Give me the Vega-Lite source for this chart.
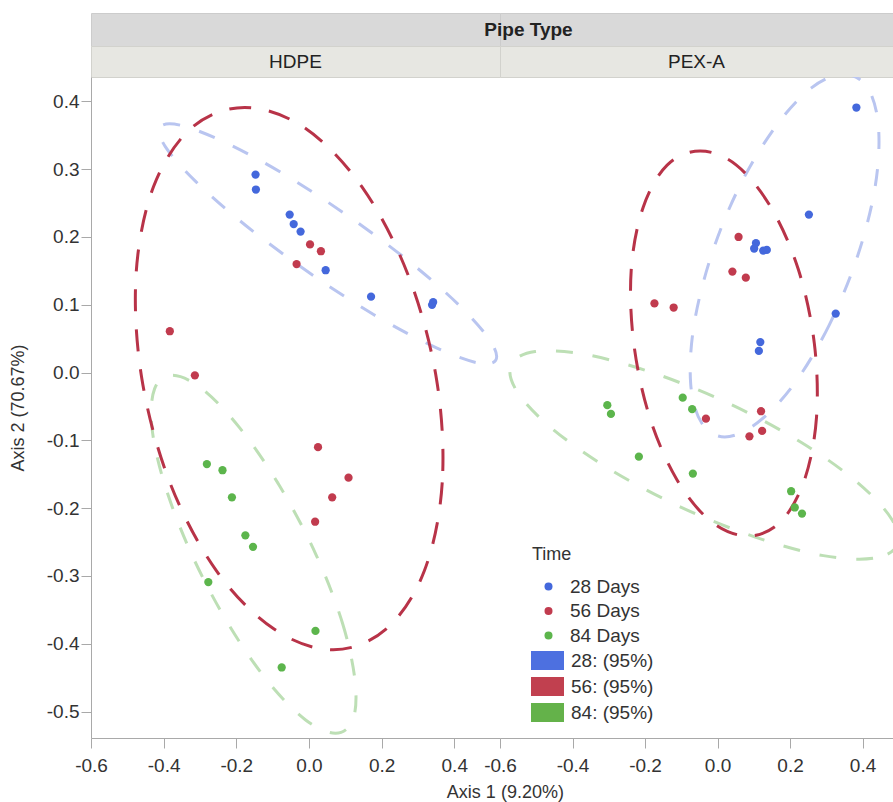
{
  "$schema": "https://vega.github.io/schema/vega-lite/v6.json",
  "padding": {"left": 9, "top": 12, "right": 0, "bottom": 0},
  "background": "white",
  "config": {
    "font": "Liberation Sans",
    "view": {"stroke": null},
    "axis": {"labelFont": "Liberation Sans", "titleFont": "Liberation Sans", "labelFontSize": 19, "titleFontSize": 18, "titleFontWeight": "normal", "labelColor": "#333333", "titleColor": "#333333", "domainColor": "#a9a9a9", "tickColor": "#a9a9a9", "tickSize": 10, "grid": false, "labelOverlap": false, "labelFlush": false, "labelBound": false},
    "legend": {"labelFont": "Liberation Sans", "titleFont": "Liberation Sans"},
    "title": {"font": "Liberation Sans"}
  },
  "datasets": {
    "pts": [
      {"pipe": "HDPE", "time": "28 Days", "x": -0.147, "y": 0.292},
      {"pipe": "HDPE", "time": "28 Days", "x": -0.146, "y": 0.270},
      {"pipe": "HDPE", "time": "28 Days", "x": -0.053, "y": 0.233},
      {"pipe": "HDPE", "time": "28 Days", "x": -0.042, "y": 0.219},
      {"pipe": "HDPE", "time": "28 Days", "x": -0.023, "y": 0.208},
      {"pipe": "HDPE", "time": "28 Days", "x": 0.046, "y": 0.151},
      {"pipe": "HDPE", "time": "28 Days", "x": 0.171, "y": 0.112},
      {"pipe": "HDPE", "time": "28 Days", "x": 0.342, "y": 0.104},
      {"pipe": "HDPE", "time": "28 Days", "x": 0.339, "y": 0.100},
      {"pipe": "HDPE", "time": "56 Days", "x": 0.003, "y": 0.189},
      {"pipe": "HDPE", "time": "56 Days", "x": 0.033, "y": 0.179},
      {"pipe": "HDPE", "time": "56 Days", "x": -0.034, "y": 0.160},
      {"pipe": "HDPE", "time": "56 Days", "x": -0.383, "y": 0.061},
      {"pipe": "HDPE", "time": "56 Days", "x": -0.314, "y": -0.004},
      {"pipe": "HDPE", "time": "56 Days", "x": 0.025, "y": -0.110},
      {"pipe": "HDPE", "time": "56 Days", "x": 0.109, "y": -0.155},
      {"pipe": "HDPE", "time": "56 Days", "x": 0.064, "y": -0.184},
      {"pipe": "HDPE", "time": "56 Days", "x": 0.017, "y": -0.220},
      {"pipe": "HDPE", "time": "84 Days", "x": -0.281, "y": -0.135},
      {"pipe": "HDPE", "time": "84 Days", "x": -0.238, "y": -0.144},
      {"pipe": "HDPE", "time": "84 Days", "x": -0.212, "y": -0.184},
      {"pipe": "HDPE", "time": "84 Days", "x": -0.175, "y": -0.240},
      {"pipe": "HDPE", "time": "84 Days", "x": -0.154, "y": -0.257},
      {"pipe": "HDPE", "time": "84 Days", "x": -0.277, "y": -0.309},
      {"pipe": "HDPE", "time": "84 Days", "x": 0.018, "y": -0.381},
      {"pipe": "HDPE", "time": "84 Days", "x": -0.075, "y": -0.435},
      {"pipe": "PEX-A", "time": "28 Days", "x": 0.383, "y": 0.391},
      {"pipe": "PEX-A", "time": "28 Days", "x": 0.252, "y": 0.233},
      {"pipe": "PEX-A", "time": "28 Days", "x": 0.106, "y": 0.191},
      {"pipe": "PEX-A", "time": "28 Days", "x": 0.101, "y": 0.183},
      {"pipe": "PEX-A", "time": "28 Days", "x": 0.126, "y": 0.180},
      {"pipe": "PEX-A", "time": "28 Days", "x": 0.136, "y": 0.181},
      {"pipe": "PEX-A", "time": "28 Days", "x": 0.326, "y": 0.087},
      {"pipe": "PEX-A", "time": "28 Days", "x": 0.118, "y": 0.045},
      {"pipe": "PEX-A", "time": "28 Days", "x": 0.114, "y": 0.032},
      {"pipe": "PEX-A", "time": "56 Days", "x": 0.058, "y": 0.200},
      {"pipe": "PEX-A", "time": "56 Days", "x": 0.041, "y": 0.149},
      {"pipe": "PEX-A", "time": "56 Days", "x": 0.078, "y": 0.140},
      {"pipe": "PEX-A", "time": "56 Days", "x": -0.174, "y": 0.102},
      {"pipe": "PEX-A", "time": "56 Days", "x": -0.121, "y": 0.096},
      {"pipe": "PEX-A", "time": "56 Days", "x": 0.120, "y": -0.057},
      {"pipe": "PEX-A", "time": "56 Days", "x": -0.032, "y": -0.068},
      {"pipe": "PEX-A", "time": "56 Days", "x": 0.123, "y": -0.086},
      {"pipe": "PEX-A", "time": "56 Days", "x": 0.088, "y": -0.094},
      {"pipe": "PEX-A", "time": "84 Days", "x": -0.304, "y": -0.048},
      {"pipe": "PEX-A", "time": "84 Days", "x": -0.294, "y": -0.061},
      {"pipe": "PEX-A", "time": "84 Days", "x": -0.096, "y": -0.037},
      {"pipe": "PEX-A", "time": "84 Days", "x": -0.070, "y": -0.054},
      {"pipe": "PEX-A", "time": "84 Days", "x": -0.217, "y": -0.124},
      {"pipe": "PEX-A", "time": "84 Days", "x": -0.068, "y": -0.149},
      {"pipe": "PEX-A", "time": "84 Days", "x": 0.203, "y": -0.175},
      {"pipe": "PEX-A", "time": "84 Days", "x": 0.213, "y": -0.199},
      {"pipe": "PEX-A", "time": "84 Days", "x": 0.233, "y": -0.208}
    ],
    "ell": [
      {"pipe": "HDPE", "ell": "28: (95%)", "i": 0, "x": 0.514, "y": 0.018},
      {"pipe": "HDPE", "ell": "28: (95%)", "i": 1, "x": 0.459, "y": 0.015},
      {"pipe": "HDPE", "ell": "28: (95%)", "i": 2, "x": 0.341, "y": 0.039},
      {"pipe": "HDPE", "ell": "28: (95%)", "i": 3, "x": 0.180, "y": 0.085},
      {"pipe": "HDPE", "ell": "28: (95%)", "i": 4, "x": -0.001, "y": 0.148},
      {"pipe": "HDPE", "ell": "28: (95%)", "i": 5, "x": -0.174, "y": 0.217},
      {"pipe": "HDPE", "ell": "28: (95%)", "i": 6, "x": -0.312, "y": 0.282},
      {"pipe": "HDPE", "ell": "28: (95%)", "i": 7, "x": -0.395, "y": 0.333},
      {"pipe": "HDPE", "ell": "28: (95%)", "i": 8, "x": -0.410, "y": 0.362},
      {"pipe": "HDPE", "ell": "28: (95%)", "i": 9, "x": -0.355, "y": 0.365},
      {"pipe": "HDPE", "ell": "28: (95%)", "i": 10, "x": -0.237, "y": 0.341},
      {"pipe": "HDPE", "ell": "28: (95%)", "i": 11, "x": -0.076, "y": 0.295},
      {"pipe": "HDPE", "ell": "28: (95%)", "i": 12, "x": 0.105, "y": 0.232},
      {"pipe": "HDPE", "ell": "28: (95%)", "i": 13, "x": 0.278, "y": 0.163},
      {"pipe": "HDPE", "ell": "28: (95%)", "i": 14, "x": 0.416, "y": 0.098},
      {"pipe": "HDPE", "ell": "28: (95%)", "i": 15, "x": 0.499, "y": 0.047},
      {"pipe": "HDPE", "ell": "56: (95%)", "i": 0, "x": 0.351, "y": -0.009},
      {"pipe": "HDPE", "ell": "56: (95%)", "i": 1, "x": 0.367, "y": -0.162},
      {"pipe": "HDPE", "ell": "56: (95%)", "i": 2, "x": 0.318, "y": -0.292},
      {"pipe": "HDPE", "ell": "56: (95%)", "i": 3, "x": 0.213, "y": -0.378},
      {"pipe": "HDPE", "ell": "56: (95%)", "i": 4, "x": 0.067, "y": -0.409},
      {"pipe": "HDPE", "ell": "56: (95%)", "i": 5, "x": -0.097, "y": -0.378},
      {"pipe": "HDPE", "ell": "56: (95%)", "i": 6, "x": -0.255, "y": -0.292},
      {"pipe": "HDPE", "ell": "56: (95%)", "i": 7, "x": -0.383, "y": -0.162},
      {"pipe": "HDPE", "ell": "56: (95%)", "i": 8, "x": -0.460, "y": -0.009},
      {"pipe": "HDPE", "ell": "56: (95%)", "i": 9, "x": -0.476, "y": 0.144},
      {"pipe": "HDPE", "ell": "56: (95%)", "i": 10, "x": -0.428, "y": 0.274},
      {"pipe": "HDPE", "ell": "56: (95%)", "i": 11, "x": -0.323, "y": 0.361},
      {"pipe": "HDPE", "ell": "56: (95%)", "i": 12, "x": -0.177, "y": 0.391},
      {"pipe": "HDPE", "ell": "56: (95%)", "i": 13, "x": -0.012, "y": 0.361},
      {"pipe": "HDPE", "ell": "56: (95%)", "i": 14, "x": 0.146, "y": 0.274},
      {"pipe": "HDPE", "ell": "56: (95%)", "i": 15, "x": 0.273, "y": 0.144},
      {"pipe": "HDPE", "ell": "84: (95%)", "i": 0, "x": 0.019, "y": -0.268},
      {"pipe": "HDPE", "ell": "84: (95%)", "i": 1, "x": 0.092, "y": -0.369},
      {"pipe": "HDPE", "ell": "84: (95%)", "i": 2, "x": 0.127, "y": -0.455},
      {"pipe": "HDPE", "ell": "84: (95%)", "i": 3, "x": 0.121, "y": -0.512},
      {"pipe": "HDPE", "ell": "84: (95%)", "i": 4, "x": 0.073, "y": -0.532},
      {"pipe": "HDPE", "ell": "84: (95%)", "i": 5, "x": -0.010, "y": -0.512},
      {"pipe": "HDPE", "ell": "84: (95%)", "i": 6, "x": -0.114, "y": -0.455},
      {"pipe": "HDPE", "ell": "84: (95%)", "i": 7, "x": -0.224, "y": -0.369},
      {"pipe": "HDPE", "ell": "84: (95%)", "i": 8, "x": -0.323, "y": -0.268},
      {"pipe": "HDPE", "ell": "84: (95%)", "i": 9, "x": -0.396, "y": -0.167},
      {"pipe": "HDPE", "ell": "84: (95%)", "i": 10, "x": -0.432, "y": -0.082},
      {"pipe": "HDPE", "ell": "84: (95%)", "i": 11, "x": -0.425, "y": -0.024},
      {"pipe": "HDPE", "ell": "84: (95%)", "i": 12, "x": -0.377, "y": -0.004},
      {"pipe": "HDPE", "ell": "84: (95%)", "i": 13, "x": -0.294, "y": -0.024},
      {"pipe": "HDPE", "ell": "84: (95%)", "i": 14, "x": -0.190, "y": -0.082},
      {"pipe": "HDPE", "ell": "84: (95%)", "i": 15, "x": -0.081, "y": -0.167},
      {"pipe": "PEX-A", "ell": "28: (95%)", "i": 0, "x": 0.387, "y": 0.173},
      {"pipe": "PEX-A", "ell": "28: (95%)", "i": 1, "x": 0.308, "y": 0.070},
      {"pipe": "PEX-A", "ell": "28: (95%)", "i": 2, "x": 0.211, "y": -0.017},
      {"pipe": "PEX-A", "ell": "28: (95%)", "i": 3, "x": 0.110, "y": -0.074},
      {"pipe": "PEX-A", "ell": "28: (95%)", "i": 4, "x": 0.020, "y": -0.095},
      {"pipe": "PEX-A", "ell": "28: (95%)", "i": 5, "x": -0.044, "y": -0.074},
      {"pipe": "PEX-A", "ell": "28: (95%)", "i": 6, "x": -0.074, "y": -0.017},
      {"pipe": "PEX-A", "ell": "28: (95%)", "i": 7, "x": -0.065, "y": 0.070},
      {"pipe": "PEX-A", "ell": "28: (95%)", "i": 8, "x": -0.017, "y": 0.173},
      {"pipe": "PEX-A", "ell": "28: (95%)", "i": 9, "x": 0.061, "y": 0.275},
      {"pipe": "PEX-A", "ell": "28: (95%)", "i": 10, "x": 0.159, "y": 0.362},
      {"pipe": "PEX-A", "ell": "28: (95%)", "i": 11, "x": 0.259, "y": 0.420},
      {"pipe": "PEX-A", "ell": "28: (95%)", "i": 12, "x": 0.349, "y": 0.440},
      {"pipe": "PEX-A", "ell": "28: (95%)", "i": 13, "x": 0.414, "y": 0.420},
      {"pipe": "PEX-A", "ell": "28: (95%)", "i": 14, "x": 0.444, "y": 0.362},
      {"pipe": "PEX-A", "ell": "28: (95%)", "i": 15, "x": 0.435, "y": 0.275},
      {"pipe": "PEX-A", "ell": "56: (95%)", "i": 0, "x": 0.267, "y": 0.043},
      {"pipe": "PEX-A", "ell": "56: (95%)", "i": 1, "x": 0.273, "y": -0.066},
      {"pipe": "PEX-A", "ell": "56: (95%)", "i": 2, "x": 0.240, "y": -0.158},
      {"pipe": "PEX-A", "ell": "56: (95%)", "i": 3, "x": 0.174, "y": -0.220},
      {"pipe": "PEX-A", "ell": "56: (95%)", "i": 4, "x": 0.084, "y": -0.241},
      {"pipe": "PEX-A", "ell": "56: (95%)", "i": 5, "x": -0.017, "y": -0.220},
      {"pipe": "PEX-A", "ell": "56: (95%)", "i": 6, "x": -0.112, "y": -0.158},
      {"pipe": "PEX-A", "ell": "56: (95%)", "i": 7, "x": -0.187, "y": -0.066},
      {"pipe": "PEX-A", "ell": "56: (95%)", "i": 8, "x": -0.231, "y": 0.043},
      {"pipe": "PEX-A", "ell": "56: (95%)", "i": 9, "x": -0.238, "y": 0.152},
      {"pipe": "PEX-A", "ell": "56: (95%)", "i": 10, "x": -0.205, "y": 0.244},
      {"pipe": "PEX-A", "ell": "56: (95%)", "i": 11, "x": -0.139, "y": 0.306},
      {"pipe": "PEX-A", "ell": "56: (95%)", "i": 12, "x": -0.048, "y": 0.327},
      {"pipe": "PEX-A", "ell": "56: (95%)", "i": 13, "x": 0.052, "y": 0.306},
      {"pipe": "PEX-A", "ell": "56: (95%)", "i": 14, "x": 0.147, "y": 0.244},
      {"pipe": "PEX-A", "ell": "56: (95%)", "i": 15, "x": 0.223, "y": 0.152},
      {"pipe": "PEX-A", "ell": "84: (95%)", "i": 0, "x": 0.495, "y": -0.255},
      {"pipe": "PEX-A", "ell": "84: (95%)", "i": 1, "x": 0.429, "y": -0.274},
      {"pipe": "PEX-A", "ell": "84: (95%)", "i": 2, "x": 0.292, "y": -0.270},
      {"pipe": "PEX-A", "ell": "84: (95%)", "i": 3, "x": 0.106, "y": -0.243},
      {"pipe": "PEX-A", "ell": "84: (95%)", "i": 4, "x": -0.103, "y": -0.198},
      {"pipe": "PEX-A", "ell": "84: (95%)", "i": 5, "x": -0.302, "y": -0.141},
      {"pipe": "PEX-A", "ell": "84: (95%)", "i": 6, "x": -0.460, "y": -0.081},
      {"pipe": "PEX-A", "ell": "84: (95%)", "i": 7, "x": -0.554, "y": -0.027},
      {"pipe": "PEX-A", "ell": "84: (95%)", "i": 8, "x": -0.569, "y": 0.012},
      {"pipe": "PEX-A", "ell": "84: (95%)", "i": 9, "x": -0.503, "y": 0.031},
      {"pipe": "PEX-A", "ell": "84: (95%)", "i": 10, "x": -0.367, "y": 0.027},
      {"pipe": "PEX-A", "ell": "84: (95%)", "i": 11, "x": -0.180, "y": 0.000},
      {"pipe": "PEX-A", "ell": "84: (95%)", "i": 12, "x": 0.029, "y": -0.045},
      {"pipe": "PEX-A", "ell": "84: (95%)", "i": 13, "x": 0.228, "y": -0.102},
      {"pipe": "PEX-A", "ell": "84: (95%)", "i": 14, "x": 0.386, "y": -0.162},
      {"pipe": "PEX-A", "ell": "84: (95%)", "i": 15, "x": 0.480, "y": -0.216}
    ]
  },
  "columns": 2,
  "spacing": 0,
  "bounds": "flush",
  "align": "each",
  "resolve": {"scale": {"color": "independent", "stroke": "independent"}, "legend": {"color": "independent", "stroke": "independent"}},
  "title": {"text": "Axis 1 (9.20%)", "orient": "bottom", "anchor": "middle", "dx": 54, "fontSize": 18, "fontWeight": "normal", "color": "#333333", "offset": 9},
  "concat": [
    {
      "data": {"values": [{"h": ""}]},
      "width": 409, "height": 33,
      "view": {"fill": "#d9d9d9", "stroke": "#cccccc"},
      "mark": {"type": "text", "fontSize": 19},
      "encoding": {"text": {"field": "h"}}
    },
    {
      "data": {"values": [{"h": "Pipe Type"}]},
      "width": 393, "height": 33,
      "view": {"fill": "#d9d9d9", "stroke": "#cccccc"},
      "mark": {"type": "text", "fontSize": 19, "fontWeight": "bold", "color": "#222222", "dx": -168},
      "encoding": {"text": {"field": "h"}}
    },
    {
      "data": {"values": [{"h": "HDPE"}]},
      "width": 409, "height": 31,
      "view": {"fill": "#e7e7e2", "stroke": "#d2d2cd"},
      "mark": {"type": "text", "fontSize": 19, "color": "#222222"},
      "encoding": {"text": {"field": "h"}}
    },
    {
      "data": {"values": [{"h": "PEX-A"}]},
      "width": 393, "height": 31,
      "view": {"fill": "#e7e7e2", "stroke": "#d2d2cd"},
      "mark": {"type": "text", "fontSize": 19, "color": "#222222"},
      "encoding": {"text": {"field": "h"}}
    },
    {
      "width": 409, "height": 661,
      "layer": [
        {
          "data": {"name": "ell"},
          "transform": [{"filter": "datum.pipe === 'HDPE' && datum.ell !== '56: (95%)'"}],
          "mark": {"type": "line", "interpolate": "cardinal-closed", "strokeWidth": 3, "strokeDash": [17, 20], "clip": true},
          "encoding": {
            "x": {"field": "x", "type": "quantitative", "scale": {"domain": [-0.6, 0.526], "nice": false, "zero": false}, "axis": {"title": null, "values": [-0.6, -0.4, -0.2, 0, 0.2, 0.4], "labelExpr": "replace(format(datum.value, '.1f'), '−', '-')", "labelPadding": 8}},
            "y": {"field": "y", "type": "quantitative", "scale": {"domain": [-0.539, 0.436], "nice": false, "zero": false}, "axis": {"title": "Axis 2 (70.67%)", "values": [-0.5, -0.4, -0.3, -0.2, -0.1, 0, 0.1, 0.2, 0.3, 0.4], "labelExpr": "replace(format(datum.value, '.1f'), '−', '-')", "labelPadding": 2, "titlePadding": 19}},
            "stroke": {"field": "ell", "type": "nominal", "scale": {"domain": ["28: (95%)", "56: (95%)", "84: (95%)"], "range": ["#b9c5f0", "#b83348", "#bddfb5"]}, "legend": null},
            "order": {"field": "i", "type": "quantitative"}
          }
        },
        {
          "data": {"name": "ell"},
          "transform": [{"filter": "datum.pipe === 'HDPE' && datum.ell === '56: (95%)'"}],
          "mark": {"type": "line", "interpolate": "cardinal-closed", "strokeWidth": 3, "strokeDash": [22, 18], "clip": true},
          "encoding": {
            "x": {"field": "x", "type": "quantitative"},
            "y": {"field": "y", "type": "quantitative"},
            "stroke": {"field": "ell", "type": "nominal", "legend": null},
            "order": {"field": "i", "type": "quantitative"}
          }
        },
        {
          "data": {"name": "pts"},
          "transform": [{"filter": "datum.pipe === 'HDPE'"}],
          "mark": {"type": "circle", "size": 68, "opacity": 1},
          "encoding": {
            "x": {"field": "x", "type": "quantitative"},
            "y": {"field": "y", "type": "quantitative"},
            "color": {"field": "time", "type": "nominal", "scale": {"domain": ["28 Days", "56 Days", "84 Days"], "range": ["#4468dc", "#c13b4e", "#5cb54c"]}, "legend": null}
          }
        }
      ]
    },
    {
      "width": 393, "height": 661,
      "layer": [
        {
          "data": {"name": "ell"},
          "transform": [{"filter": "datum.pipe === 'PEX-A' && datum.ell !== '56: (95%)'"}],
          "mark": {"type": "line", "interpolate": "cardinal-closed", "strokeWidth": 3, "strokeDash": [17, 20], "clip": true},
          "encoding": {
            "x": {"field": "x", "type": "quantitative", "scale": {"domain": [-0.6, 0.484], "nice": false, "zero": false}, "axis": {"title": null, "values": [-0.6, -0.4, -0.2, 0, 0.2, 0.4], "labelExpr": "replace(format(datum.value, '.1f'), '−', '-')", "labelPadding": 8}},
            "y": {"field": "y", "type": "quantitative", "scale": {"domain": [-0.539, 0.436], "nice": false, "zero": false}, "axis": null},
            "stroke": {"field": "ell", "type": "nominal", "scale": {"domain": ["28: (95%)", "56: (95%)", "84: (95%)"], "range": ["#b9c5f0", "#b83348", "#bddfb5"]},
              "legend": {"title": null, "orient": "none", "legendX": 31, "legendY": 574, "padding": 0, "symbolType": "M-1.737,-1H1.737V1H-1.737Z", "symbolSize": 361, "symbolStrokeWidth": 0, "symbolOpacity": 1, "symbolOffset": 7, "labelOffset": 14, "labelFontSize": 19, "labelColor": "#333333", "rowPadding": 6,
                "encode": {"symbols": {"update": {"fill": {"signal": "datum.value === '28: (95%)' ? '#4d70e0' : datum.value === '56: (95%)' ? '#c1404f' : '#64b24a'"}, "opacity": {"value": 1}}}}}},
            "order": {"field": "i", "type": "quantitative"}
          }
        },
        {
          "data": {"name": "ell"},
          "transform": [{"filter": "datum.pipe === 'PEX-A' && datum.ell === '56: (95%)'"}],
          "mark": {"type": "line", "interpolate": "cardinal-closed", "strokeWidth": 3, "strokeDash": [22, 18], "clip": true},
          "encoding": {
            "x": {"field": "x", "type": "quantitative"},
            "y": {"field": "y", "type": "quantitative"},
            "stroke": {"field": "ell", "type": "nominal"},
            "order": {"field": "i", "type": "quantitative"}
          }
        },
        {
          "data": {"name": "pts"},
          "transform": [{"filter": "datum.pipe === 'PEX-A'"}],
          "mark": {"type": "circle", "size": 68, "opacity": 1},
          "encoding": {
            "x": {"field": "x", "type": "quantitative"},
            "y": {"field": "y", "type": "quantitative"},
            "color": {"field": "time", "type": "nominal", "scale": {"domain": ["28 Days", "56 Days", "84 Days"], "range": ["#4468dc", "#c13b4e", "#5cb54c"]},
              "legend": {"title": "Time", "orient": "none", "legendX": 32, "legendY": 469, "padding": 0, "titleFontSize": 18, "titleFontWeight": "normal", "titleColor": "#333333", "titlePadding": 13, "labelFontSize": 19, "labelColor": "#333333", "symbolType": "circle", "symbolSize": 64, "symbolOffset": 7, "labelOffset": 12, "rowPadding": 4.5, "symbolOpacity": 1, "symbolStrokeWidth": 0}}
          }
        }
      ]
    }
  ]
}
